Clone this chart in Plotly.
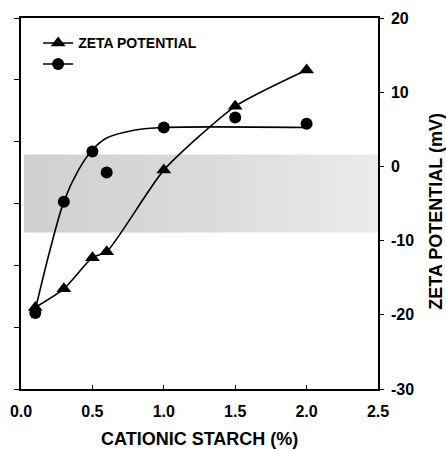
import plotly.graph_objects as go

# Data
starch = [0.1, 0.3, 0.5, 0.6, 1.0, 1.5, 2.0]
zeta = [-19.0, -16.5, -12.3, -11.5, -0.5, 8.1, 13.0]          # mV, right axis
circle_vals = [12.3, 30.3, 38.4, 35.0, 42.3, 43.9, 42.9]        # unlabeled left axis

# fitted curve through circles
circ_fit_x = [0.1, 0.2, 0.3, 0.4, 0.5, 0.6, 0.8, 1.0, 2.0]
circ_fit_y = [12.8, 22.2, 30.3, 35.3, 38.7, 40.6, 41.9, 42.3, 42.3]

# shaded band (mV)
band_x = [0.02, 2.5]
band_y = [-8.9, 1.6]

x_ticks = [0.0, 0.5, 1.0, 1.5, 2.0, 2.5]
y_ticks = [-30, -20, -10, 0, 10, 20]

FONT = "Liberation Sans"
fig = go.Figure()

# legend-only entries
fig.add_trace(go.Scatter(x=[None], y=[None], mode="lines+markers", name="ZETA POTENTIAL",
                         line=dict(color="black", width=1.5),
                         marker=dict(symbol="triangle-up", size=13, color="black"), yaxis="y"))
fig.add_trace(go.Scatter(x=[None], y=[None], mode="lines+markers", name=" ",
                         line=dict(color="black", width=1.5),
                         marker=dict(symbol="circle", size=12, color="black"), yaxis="y"))

# shaded band
fig.add_trace(go.Scatter(x=[band_x[0], band_x[1], band_x[1], band_x[0], band_x[0]],
                         y=[band_y[0], band_y[0], band_y[1], band_y[1], band_y[0]],
                         mode="lines", line=dict(width=0), fill="toself",
                         fillgradient=dict(type="horizontal",
                                           colorscale=[[0, "#d0d0d0"], [0.5, "#dadada"], [1, "#ebebeb"]]),
                         showlegend=False, hoverinfo="skip", yaxis="y"))

# zeta potential curve + markers (right axis)
fig.add_trace(go.Scatter(x=starch, y=zeta, mode="lines+markers", line_shape="spline",
                         line=dict(color="black", width=1.6, smoothing=0.6),
                         marker=dict(symbol="triangle-up", size=13, color="black"),
                         showlegend=False, yaxis="y"))

# circle curve + markers (left axis)
fig.add_trace(go.Scatter(x=circ_fit_x, y=circ_fit_y, mode="lines", line_shape="spline",
                         line=dict(color="black", width=1.6, smoothing=0.9),
                         showlegend=False, yaxis="y2"))
fig.add_trace(go.Scatter(x=starch, y=circle_vals, mode="markers",
                         marker=dict(symbol="circle", size=12, color="black"),
                         showlegend=False, yaxis="y2"))

fig.update_layout(
    width=446, height=450,
    margin=dict(l=21, r=68, t=18, b=61, autoexpand=False),
    paper_bgcolor="white", plot_bgcolor="white",
    font=dict(family=FONT, color="black", size=15, weight="bold"),
    showlegend=True,
    legend=dict(x=0.048, y=0.975, xanchor="left", yanchor="top",
                bgcolor="rgba(0,0,0,0)", font=dict(size=14, family=FONT, weight="bold"),
                tracegroupgap=0, itemwidth=30),
    xaxis=dict(range=[0, 2.5], tickvals=x_ticks,
               ticktext=[f"<b>{v:.1f}</b>" for v in x_ticks],
               ticks="inside", ticklen=4, tickwidth=1.2, tickcolor="black",
               showline=True, linecolor="black", linewidth=1.5, mirror=True,
               showgrid=False, zeroline=False, ticklabelstandoff=7, automargin=False,
               tickfont=dict(size=16, family=FONT, weight="bold")),
    yaxis=dict(range=[-30, 20], tickvals=y_ticks,
               ticktext=[f"<b>{v}</b>" for v in y_ticks], side="right",
               ticks="outside", ticklen=4, tickwidth=1.2, tickcolor="black",
               showline=True, linecolor="black", linewidth=1.5, automargin=False,
               showgrid=False, zeroline=False, ticklabelstandoff=4,
               tickfont=dict(size=16, family=FONT, weight="bold")),
    yaxis2=dict(range=[0, 60], dtick=10, side="left", overlaying="y",
                ticks="outside", ticklen=5, tickwidth=1.2, tickcolor="black",
                showline=True, linecolor="black", linewidth=1.5, automargin=False,
                showgrid=False, zeroline=False, showticklabels=False),
    annotations=[
        dict(text="<b>ZETA POTENTIAL (mV)</b>", textangle=-90,
             xref="paper", yref="paper", x=1.1625, y=0.478,
             xanchor="center", yanchor="middle", showarrow=False,
             font=dict(size=18, family=FONT, weight="bold")),
        dict(text="<b>CATIONIC STARCH (%)</b>",
             xref="paper", yref="paper", x=0.5, y=-0.134,
             xanchor="center", yanchor="middle", showarrow=False,
             font=dict(size=18, family=FONT, weight="bold")),
    ],
)

fig.write_html("out.html")
